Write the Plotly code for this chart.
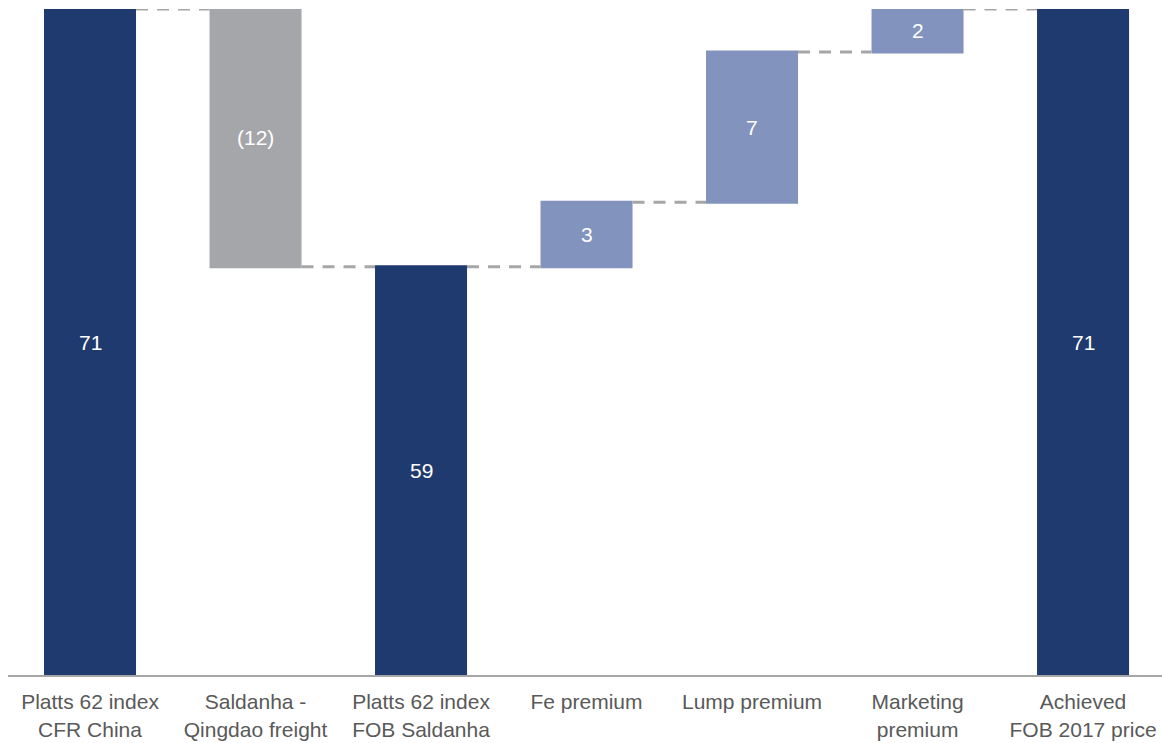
import plotly.graph_objects as go

categories = ["Platts 62 index<br>CFR China", "Saldanha -<br>Qingdao freight",
              "Platts 62 index<br>FOB Saldanha", "Fe premium", "Lump premium",
              "Marketing<br>premium", "Achieved<br>FOB 2017 price"]
values = [71, -12, 0, 3, 7, 2, 0]
measures = ["absolute", "relative", "total", "relative", "relative", "relative", "total"]
labels = ["71", "(12)", "59", "3", "7", "2", "71"]

NAVY = "#1F3A6E"
GREY = "#A5A6AA"
LIGHT = "#8294BD"
Y_MIN, Y_MAX = 40, 71

fig = go.Figure(go.Waterfall(
    x=categories,
    y=values,
    measure=measures,
    textposition="none",
    totals=dict(marker=dict(color=NAVY)),
    decreasing=dict(marker=dict(color=GREY)),
    increasing=dict(marker=dict(color=LIGHT)),
    connector=dict(mode="between", line=dict(color="#A6A6A6", width=3, dash="12px,9px")),
    hoverinfo="skip",
))

# label positions computed from the data
cum = 0
for cat, v, m, lab in zip(categories, values, measures, labels):
    if m == "absolute":
        lo, hi = 0, v
        cum = v
    elif m == "total":
        lo, hi = 0, cum
    else:
        lo, hi = cum, cum + v
        cum = cum + v
    lo_c, hi_c = max(min(lo, hi), Y_MIN), min(max(lo, hi), Y_MAX)
    fig.add_annotation(x=cat, y=(lo_c + hi_c) / 2, text=lab, showarrow=False,
                       font=dict(color="white", size=21, family="Liberation Sans, Arial"))

fig.update_layout(
    width=1162, height=743,
    margin=dict(l=8, r=0, t=9, b=68),
    plot_bgcolor="white", paper_bgcolor="white",
    waterfallgap=0.444,
    showlegend=False,
    font=dict(family="Liberation Sans, Arial", size=21, color="#595959"),
    xaxis=dict(showline=True, linecolor="#A6A6A6", linewidth=2, ticks="",
               showgrid=False, zeroline=False, range=[-0.4955, 6.477],
               ticklabelstandoff=7,
               tickfont=dict(size=21, color="#595959")),
    yaxis=dict(visible=False, range=[Y_MIN, Y_MAX], showgrid=False, zeroline=False),
)

fig.write_html("out.html", config={"displayModeBar": False},
               post_script="document.body.style.margin='0';document.body.style.overflow='hidden';")
